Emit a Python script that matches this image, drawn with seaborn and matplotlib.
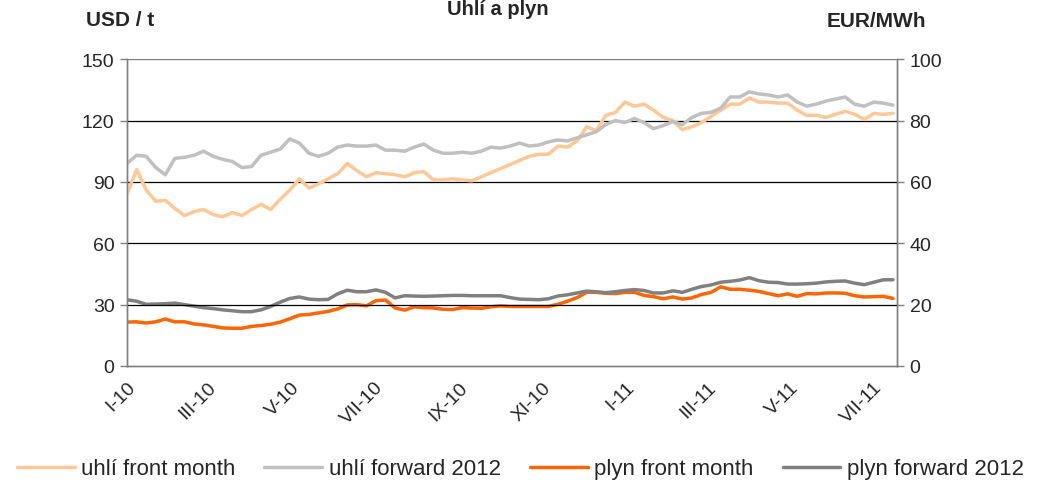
import matplotlib
matplotlib.use("Agg")
import matplotlib.pyplot as plt
import seaborn as sns
import pandas as pd
import numpy as np

# weekly observations, Jan 2010 - Jul 2011
dates = pd.date_range("2010-01-01", periods=81, freq="7D")

# USD / t
uhli_front = [84, 96, 86, 80.5, 81, 77, 73.5, 75.5, 76.5, 74,
              73, 75, 73.5, 76.5, 79, 76.5, 81.5, 86, 91.5, 87,
              89, 91.5, 94, 99, 95.5, 92.5, 94.5, 94, 93.5, 92.5,
              94.5, 95, 91, 91, 91.5, 91, 90.5, 92.5, 94.5, 96.5,
              98.5, 100.5, 102.5, 103.5, 103.5, 107.5, 107, 110, 117, 115,
              122.5, 124, 129, 127, 128, 125, 121.5, 120, 115.5, 117,
              119, 122, 125, 128, 128, 131, 129, 129, 128.5, 128.5,
              125, 122.5, 122.5, 121.5, 123, 124.5, 123, 120.5, 123.5, 123,
              123.5]
uhli_fwd = [99, 103, 102.5, 97, 93.5, 101.5, 102, 103, 105, 102.5,
            101, 100, 97, 97.5, 103, 104.5, 106, 111, 109, 104,
            102.5, 104, 107, 108, 107.5, 107.5, 108, 105.5, 105.5, 105,
            107, 108.5, 105.5, 104, 104, 104.5, 104, 105, 107, 106.5,
            107.5, 109, 107.5, 108, 109.5, 110.5, 110, 111.5, 113, 114.5,
            118, 120, 119, 121, 119, 116, 117.5, 119.5, 118, 121.5,
            123.5, 124, 126, 131.5, 131.5, 134, 133, 132.5, 131.5, 132.5,
            129, 127, 128, 129.5, 130.5, 131.5, 128, 127, 129, 128.5,
            127.5]

# EUR/MWh
plyn_front = [14.3, 14.4, 14.0, 14.4, 15.3, 14.4, 14.4, 13.7, 13.4, 12.9,
              12.4, 12.3, 12.3, 12.9, 13.2, 13.6, 14.3, 15.4, 16.6, 16.8,
              17.3, 17.8, 18.6, 19.9, 20.0, 19.6, 21.3, 21.5, 18.9, 18.2,
              19.3, 19.0, 18.9, 18.5, 18.4, 19.0, 18.9, 18.8, 19.3, 19.6,
              19.4, 19.4, 19.4, 19.4, 19.4, 20.1, 21.1, 22.3, 24.0, 24.0,
              23.7, 23.6, 24.0, 24.0, 23.0, 22.6, 21.9, 22.5, 21.8, 22.2,
              23.3, 24.0, 25.8, 25.0, 25.0, 24.7, 24.3, 23.6, 22.9, 23.5,
              22.7, 23.6, 23.5, 23.8, 23.8, 23.7, 22.9, 22.5, 22.6, 22.7,
              22.0]
plyn_fwd = [21.6, 21.1, 20.1, 20.2, 20.3, 20.5, 20.0, 19.5, 19.0, 18.7,
            18.3, 18.0, 17.7, 17.7, 18.3, 19.4, 20.8, 22.0, 22.5, 21.8,
            21.6, 21.7, 23.5, 24.7, 24.2, 24.2, 24.8, 24.0, 22.2, 22.9,
            22.8, 22.7, 22.8, 22.9, 23.0, 23.0, 22.9, 22.9, 22.9, 22.9,
            22.3, 21.8, 21.7, 21.6, 21.9, 22.8, 23.2, 23.8, 24.4, 24.2,
            23.9, 24.2, 24.6, 24.9, 24.6, 23.8, 23.8, 24.5, 24.0, 25.0,
            25.9, 26.4, 27.3, 27.6, 28.0, 28.8, 27.8, 27.3, 27.2, 26.7,
            26.7, 26.8, 27.0, 27.4, 27.6, 27.7, 27.0, 26.5, 27.3, 28.1,
            28.1]

tick_dates = pd.to_datetime(["2010-01-01", "2010-03-01", "2010-05-01", "2010-07-01",
                             "2010-09-01", "2010-11-01", "2011-01-01", "2011-03-01",
                             "2011-05-01", "2011-07-01"])
tick_labels = ["I-10", "III-10", "V-10", "VII-10", "IX-10", "XI-10",
               "I-11", "III-11", "V-11", "VII-11"]

sns.set_style("white")
plt.rcParams["font.family"] = ["Liberation Sans", "DejaVu Sans"]

coal = pd.DataFrame({"date": dates, "front": uhli_front, "fwd": uhli_fwd})
gas = pd.DataFrame({"date": dates, "front": plyn_front, "fwd": plyn_fwd})

fig = plt.figure(figsize=(10.47, 4.85), dpi=100)
ax = fig.add_axes([0.1213, 0.2433, 0.7355, 0.6327])
ax2 = ax.twinx()

lw = 2.5
sns.lineplot(data=coal, x="date", y="front", ax=ax, color="#FFC896", lw=lw, label="uhlí front month")
sns.lineplot(data=coal, x="date", y="fwd", ax=ax, color="#C0C0C0", lw=lw, label="uhlí forward 2012")
sns.lineplot(data=gas, x="date", y="front", ax=ax2, color="#FF6600", lw=lw, label="plyn front month")
sns.lineplot(data=gas, x="date", y="fwd", ax=ax2, color="#808080", lw=lw, label="plyn forward 2012")

ax.set_ylim(0, 150)
ax.set_yticks(np.arange(0, 151, 30))
ax2.set_ylim(0, 100)
ax2.set_yticks(np.arange(0, 101, 20))
ax.set_xlim(pd.Timestamp("2010-01-01"), pd.Timestamp("2011-07-18"))
ax.set_xticks(tick_dates)
ax.set_xticklabels(tick_labels, rotation=45, ha="right", rotation_mode="anchor")

for y in [30, 60, 90, 120]:
    ax.axhline(y, color="black", lw=0.9, zorder=0)
ax.axhline(150, color="#808080", lw=1.0, zorder=0)

for a in (ax, ax2):
    a.set_xlabel("")
    a.set_ylabel("")
    for s in a.spines.values():
        s.set_color("#808080")
        s.set_linewidth(1.0)
    a.spines["top"].set_visible(False)
ax.tick_params(axis="both", labelsize=14, direction="out", length=5, width=1, color="#808080", pad=4)
ax2.tick_params(axis="y", labelsize=14, direction="out", length=5, width=1, color="#808080", pad=4)
ax.set_zorder(ax2.get_zorder() + 1)
ax.patch.set_visible(False)

fig.text(0.4757, 0.999, "Uhlí a plyn", ha="center", va="top", fontsize=14.5, fontweight="bold")
fig.text(0.082, 0.958, "USD / t", ha="left", va="center", fontsize=15, fontweight="bold")
fig.text(0.885, 0.955, "EUR/MWh", ha="right", va="center", fontsize=15, fontweight="bold")

h1, l1 = ax.get_legend_handles_labels()
h2, l2 = ax2.get_legend_handles_labels()
ax.get_legend().remove()
ax2.get_legend().remove()
fig.legend(h1 + h2, l1 + l2, loc="center", bbox_to_anchor=(0.497, 0.031), ncol=4,
           frameon=False, fontsize=16, handlelength=2.6, columnspacing=1.3, handletextpad=0.3)

fig.savefig("out.png", dpi=100)
